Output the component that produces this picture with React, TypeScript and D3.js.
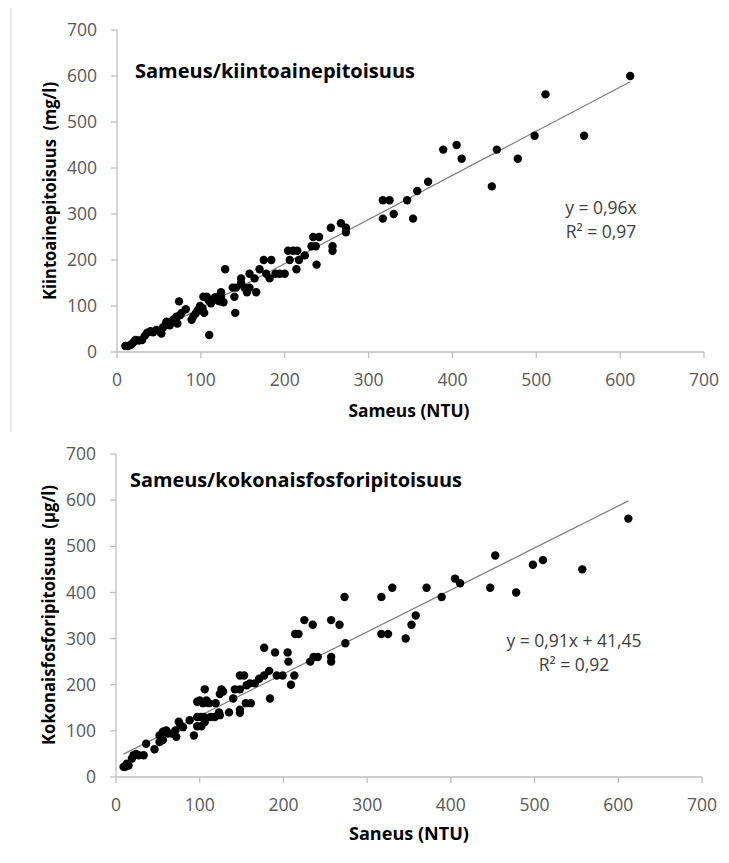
import React from "react";
import * as d3 from "d3";

const xTicks = [0, 100, 200, 300, 400, 500, 600, 700];
const yTicks = [0, 100, 200, 300, 400, 500, 600, 700];

const titles = ["Sameus/kiintoainepitoisuus", "Sameus/kokonaisfosforipitoisuus"];
const xLabels = ["Sameus (NTU)", "Saneus (NTU)"];
const yLabels = ["Kiintoainepitoisuus  (mg/l)", "Kokonaisfosforipitoisuus  (µg/l)"];
const eqLines1 = ["y = 0,96x", "R² = 0,97"];
const eqLines2 = ["y = 0,91x + 41,45", "R² = 0,92"];
const slopes = [0.96, 0.91];
const intercepts = [0, 41.45];

const solidsData: [number, number][] = [
  [10, 13], [13, 13], [16, 15], [18, 18], [20, 22], [22, 26], [26, 25], [30, 26], [33, 35], [36, 42],
  [40, 45], [43, 43], [47, 48], [51, 44], [53, 40], [55, 54], [58, 60], [59, 66], [62, 60], [63, 58],
  [66, 66], [67, 70], [70, 72], [71, 77], [72, 62], [74, 110], [75, 80], [77, 85], [82, 93], [89, 70],
  [91, 77], [94, 84], [96, 90], [97, 92], [99, 100], [102, 95], [103, 120], [104, 85], [107, 120], [109, 113],
  [110, 37], [112, 106], [115, 113], [117, 119], [120, 115], [122, 110], [124, 120], [124, 130], [127, 108], [129, 180],
  [138, 140], [140, 120], [141, 85], [142, 140], [148, 150], [148, 160], [152, 140], [155, 130], [158, 140], [158, 170],
  [164, 160], [166, 130], [170, 180], [175, 200], [178, 170], [182, 160], [184, 200], [189, 170], [194, 170], [200, 170],
  [204, 220], [206, 200], [210, 220], [214, 180], [215, 220], [217, 200], [224, 210], [232, 230], [234, 250], [237, 230],
  [238, 190], [241, 250], [255, 270], [257, 230], [257, 220], [267, 280], [273, 270], [273, 260], [317, 330], [325, 330],
  [317, 290], [330, 300], [346, 330], [353, 290], [358, 350], [371, 370], [389, 440], [405, 450], [411, 420], [447, 360],
  [453, 440], [478, 420], [498, 470], [511, 560], [557, 470], [612, 600],
];

const phosphorusData: [number, number][] = [
  [9, 22], [11, 22], [13, 29], [15, 25], [19, 40], [21, 47], [24, 50], [27, 47], [33, 47], [36, 72],
  [46, 60], [52, 76], [52, 90], [56, 80], [56, 98], [60, 101], [62, 94], [67, 94], [71, 101], [72, 87],
  [75, 120], [77, 112], [80, 108], [88, 123], [93, 90], [97, 110], [97, 130], [97, 163], [100, 166], [101, 130],
  [102, 110], [104, 160], [105, 130], [106, 119], [106, 190], [108, 166], [111, 160], [113, 130], [118, 130], [119, 160],
  [123, 140], [124, 134], [124, 180], [126, 190], [128, 185], [135, 140], [140, 170], [142, 190], [148, 190], [148, 146],
  [148, 139], [148, 220], [153, 220], [155, 160], [156, 199], [160, 203], [161, 160], [166, 203], [171, 213], [177, 220],
  [177, 280], [183, 230], [184, 170], [190, 270], [192, 220], [199, 220], [205, 270], [206, 250], [209, 200], [213, 220],
  [214, 310], [218, 310], [225, 340], [232, 250], [235, 330], [236, 260], [241, 260], [257, 340], [257, 260], [257, 250],
  [267, 330], [273, 390], [274, 290], [317, 390], [317, 310], [325, 310], [330, 410], [346, 300], [353, 330], [358, 350],
  [371, 410], [389, 390], [405, 430], [411, 420], [447, 410], [453, 480], [478, 400], [498, 460], [510, 470], [557, 450],
  [612, 560],
];

const FONT = "'Open Sans', 'DejaVu Sans', sans-serif";

type Layout = {
  left: number; right: number; top: number; bottom: number;
  titleX: number; titleY: number; titleLen: number;
  yLabelX: number; yLabelY: number; yLabelLen: number;
  xLabelX: number; xLabelY: number; xLabelLen: number;
  eqX: number; eqY: number; eqAnchor: string;
};

function Chart({ data, title, xLabel, yLabel, eq, slope, intercept, L }: {
  data: [number, number][]; title: string; xLabel: string; yLabel: string; eq: string[];
  slope: number; intercept: number; L: Layout;
}) {
  const x = d3.scaleLinear().domain([0, 700]).range([L.left, L.right]);
  const y = d3.scaleLinear().domain([0, 700]).range([L.bottom, L.top]);
  const [xmin, xmax] = d3.extent(data, (d) => d[0]) as [number, number];
  const line = d3.line<number>().x((v) => x(v)).y((v) => y(slope * v + intercept));
  const axisColor = "#bfbfbf";
  return (
    <g>
      <line x1={L.left} x2={L.right} y1={L.bottom} y2={L.bottom} stroke={axisColor} strokeWidth={1.3} />
      <line x1={L.left} x2={L.left} y1={L.top} y2={L.bottom} stroke={axisColor} strokeWidth={1.3} />
      {xTicks.map((t) => (
        <g key={"x" + t}>
          <line x1={x(t)} x2={x(t)} y1={L.bottom} y2={L.bottom + 6} stroke={axisColor} strokeWidth={1.3} />
          <text x={x(t)} y={L.bottom + 34} textAnchor="middle" fontSize={17.5} fill="#595959" fontFamily={FONT}>{t}</text>
        </g>
      ))}
      {yTicks.map((t) => (
        <g key={"y" + t}>
          <line x1={L.left - 6} x2={L.left} y1={y(t)} y2={y(t)} stroke={axisColor} strokeWidth={1.3} />
          <text x={L.left - 20} y={y(t)} dy="0.35em" textAnchor="end" fontSize={17.5} fill="#595959" fontFamily={FONT}>{t}</text>
        </g>
      ))}
      <path d={line([xmin, xmax]) || ""} stroke="#7f7f7f" strokeWidth={1.2} fill="none" />
      {data.map((d, i) => (
        <circle key={i} cx={x(d[0])} cy={y(d[1])} r={4.2} fill="#000" />
      ))}
      <text x={L.titleX} y={L.titleY} fontSize={19.5} fontWeight="bold" fill="#000" fontFamily={FONT}
        textLength={L.titleLen} lengthAdjust="spacingAndGlyphs">{title}</text>
      <text x={L.xLabelX} y={L.xLabelY} textAnchor="middle" fontSize={17.5} fontWeight="bold" fill="#000" fontFamily={FONT}
        textLength={L.xLabelLen} lengthAdjust="spacingAndGlyphs">{xLabel}</text>
      <text transform={`translate(${L.yLabelX},${L.yLabelY}) rotate(-90)`} textAnchor="middle" fontSize={17.5} fontWeight="bold"
        fill="#000" fontFamily={FONT} textLength={L.yLabelLen} lengthAdjust="spacingAndGlyphs" style={{ whiteSpace: "pre" }}>{yLabel}</text>
      {eq.map((s, i) => (
        <text key={i} x={L.eqX} y={L.eqY + i * 24} textAnchor={L.eqAnchor as any} fontSize={17.5} fill="#404040" fontFamily={FONT}>{s}</text>
      ))}
    </g>
  );
}

const layoutTop: Layout = {
  left: 117, right: 704, top: 30, bottom: 352,
  titleX: 135, titleY: 78, titleLen: 280,
  yLabelX: 56, yLabelY: 191, yLabelLen: 218,
  xLabelX: 409, xLabelY: 417, xLabelLen: 121,
  eqX: 601, eqY: 214, eqAnchor: "middle",
};
const layoutBottom: Layout = {
  left: 116, right: 702, top: 454, bottom: 777,
  titleX: 130, titleY: 487, titleLen: 332,
  yLabelX: 55, yLabelY: 615, yLabelLen: 260,
  xLabelX: 409, xLabelY: 840, xLabelLen: 120,
  eqX: 574, eqY: 647, eqAnchor: "middle",
};

export default function App() {
  return (
    <svg width={729} height={863} style={{ position: "absolute", left: 0, top: 0, background: "#fff" }}>
      <rect x={0} y={0} width={729} height={863} fill="#fff" />
      <line x1={11} x2={11} y1={8} y2={432} stroke="#d9d9d9" strokeWidth={1} />
      <Chart data={solidsData} title={titles[0]} xLabel={xLabels[0]} yLabel={yLabels[0]} eq={eqLines1}
        slope={slopes[0]} intercept={intercepts[0]} L={layoutTop} />
      <Chart data={phosphorusData} title={titles[1]} xLabel={xLabels[1]} yLabel={yLabels[1]} eq={eqLines2}
        slope={slopes[1]} intercept={intercepts[1]} L={layoutBottom} />
    </svg>
  );
}
